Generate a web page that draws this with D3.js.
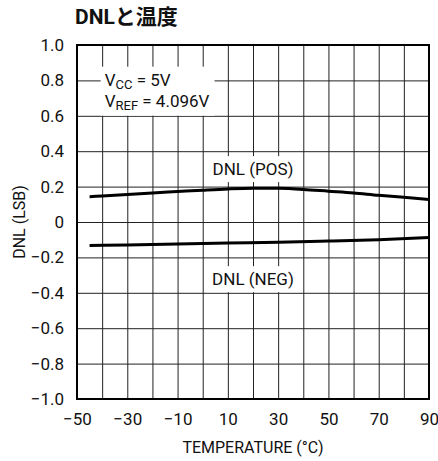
<!DOCTYPE html>
<html lang="ja">
	<head>
		<meta charset="utf-8">
		<title>DNLと温度</title>
		<script type="text/javascript" src="https://cdn.jsdelivr.net/npm/d3@7"></script>
		<style type="text/css">
			body {
				margin: 0px;
				background: white;
			}
			text {
				font-family: Roboto, sans-serif;
				fill: #111;
			}
			.title {
				font-family: Roboto, "Noto Sans CJK JP", sans-serif;
				font-weight: bold;
				font-size: 21px;
			}
		</style>
	</head>
	<body>
		<div id="chart"></div>
		<script type="text/javascript">
			//Data
			var posTemp = [-45, -40, -30, -20, -10, 0, 10, 20, 30, 40, 50, 60, 70, 80, 90];
			var posDnl  = [0.143, 0.147, 0.155, 0.164, 0.172, 0.180, 0.187, 0.191, 0.190, 0.184, 0.174, 0.164, 0.151, 0.140, 0.127];

			var negTemp = [-45, -30, -10, 10, 30, 50, 70, 90];
			var negDnl  = [-0.133, -0.130, -0.124, -0.119, -0.115, -0.108, -0.100, -0.088];

			var xTicks = [-50, -30, -10, 10, 30, 50, 70, 90];
			var yTicks = [1.0, 0.8, 0.6, 0.4, 0.2, 0, -0.2, -0.4, -0.6, -0.8, -1.0];

			//Size
			var w = 438;
			var h = 461;
			var margin = {top: 45, right: 9, bottom: 62, left: 77};
			var pw = w - margin.left - margin.right;
			var ph = h - margin.top - margin.bottom;

			var svg = d3.select("#chart")
				.append("svg")
				.attr("width", w)
				.attr("height", h);

			svg.append("text")
				.attr("class", "title")
				.attr("x", 75)
				.attr("y", 24)
				.text("DNLと温度");

			var g = svg.append("g")
				.attr("transform", "translate(" + margin.left + "," + margin.top + ")");

			var x = d3.scaleLinear().domain([-50, 90]).range([0, pw]);
			var y = d3.scaleLinear().domain([-1, 1]).range([ph, 0]);

			//minus sign instead of hyphen
			var minus = function(s, d) { return d < 0 ? "\u2212" + s : s; };
			var fmtY = function(d) { return minus(d === 0 ? "0" : d3.format(".1f")(Math.abs(d)), d); };
			var fmtX = function(d) { return minus(String(Math.abs(d)), d); };

			//Grid
			g.append("g")
				.attr("transform", "translate(0," + ph + ")")
				.call(d3.axisBottom(x).tickValues(d3.range(-50, 91, 10)).tickSize(-ph).tickFormat(""))
				.call(function(a) { a.select(".domain").remove(); })
				.selectAll("line").attr("stroke", "#222");

			g.append("g")
				.call(d3.axisLeft(y).tickValues(yTicks).tickSize(-pw).tickFormat(""))
				.call(function(a) { a.select(".domain").remove(); })
				.selectAll("line").attr("stroke", "#222");

			//Tick labels
			var xa = g.append("g")
				.attr("transform", "translate(0," + ph + ")")
				.call(d3.axisBottom(x).tickValues(xTicks).tickSize(0).tickPadding(14).tickFormat(fmtX));
			xa.select(".domain").remove();
			xa.selectAll("text").attr("font-size", 17).attr("font-family", null);

			var ya = g.append("g")
				.call(d3.axisLeft(y).tickValues(yTicks).tickSize(0).tickPadding(13).tickFormat(fmtY));
			ya.select(".domain").remove();
			ya.selectAll("text").attr("font-size", 17).attr("font-family", null);

			//Axis titles
			svg.append("text")
				.attr("x", margin.left + pw / 2)
				.attr("y", 453)
				.attr("text-anchor", "middle")
				.attr("font-size", 16)
				.text("TEMPERATURE (°C)");

			svg.append("text")
				.attr("transform", "translate(25," + (margin.top + ph / 2) + ") rotate(-90)")
				.attr("text-anchor", "middle")
				.attr("font-size", 16)
				.text("DNL (LSB)");

			//Annotation boxes
			var addBox = function(node, padL, padR, padT, padB) {
				var b = node.getBBox();
				g.insert("rect", function() { return node; })
					.attr("x", b.x - padL)
					.attr("y", b.y - padT)
					.attr("width", b.width + padL + padR)
					.attr("height", b.height + padT + padB)
					.attr("fill", "white");
			};

			var cond = g.append("text")
				.attr("x", x(-39))
				.attr("y", y(0.77))
				.attr("font-size", 17);
			cond.append("tspan").text("V");
			cond.append("tspan").attr("font-size", 13).attr("dy", 3).text("CC");
			cond.append("tspan").attr("dy", -3).text(" = 5V");
			cond.append("tspan").attr("x", x(-39)).attr("dy", 21).text("V");
			cond.append("tspan").attr("font-size", 13).attr("dy", 3).text("REF");
			cond.append("tspan").attr("dy", -3).text(" = 4.096V");
			addBox(cond.node(), 4, 5, 3, 3);

			var labels = [
				{text: "DNL (POS)", t: 20, v: 0.265},
				{text: "DNL (NEG)", t: 20, v: -0.357}
			];
			labels.forEach(function(d) {
				var t = g.append("text")
					.attr("x", x(d.t))
					.attr("y", y(d.v))
					.attr("text-anchor", "middle")
					.attr("font-size", 17)
					.text(d.text);
				addBox(t.node(), 6, 6, 3, 3);
			});

			//Curves
			var line = d3.line()
				.x(function(d) { return x(d[0]); })
				.y(function(d) { return y(d[1]); })
				.curve(d3.curveMonotoneX);

			g.append("path")
				.datum(d3.zip(posTemp, posDnl))
				.attr("d", line)
				.attr("fill", "none")
				.attr("stroke", "black")
				.attr("stroke-width", 3);

			g.append("path")
				.datum(d3.zip(negTemp, negDnl))
				.attr("d", line)
				.attr("fill", "none")
				.attr("stroke", "black")
				.attr("stroke-width", 3);

			//Frame
			g.append("rect")
				.attr("width", pw)
				.attr("height", ph)
				.attr("fill", "none")
				.attr("stroke", "black")
				.attr("stroke-width", 2);
		</script>
	</body>
</html>
